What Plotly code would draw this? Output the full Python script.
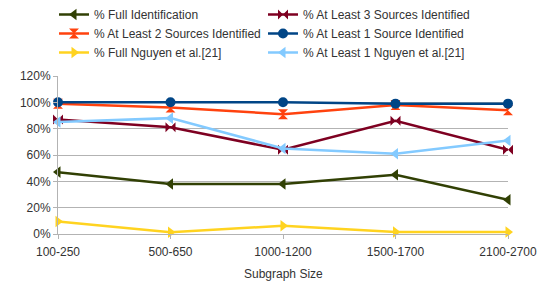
import plotly.graph_objects as go

categories = ["100-250", "500-650", "1000-1200", "1500-1700", "2100-2700"]
full_ident = [47, 38, 38, 45, 26]
least3 = [87, 81, 64, 86, 64]
least2 = [99, 96, 91, 98, 94]
least1 = [100, 100, 100, 99, 99]
full_nguyen = [9.5, 1.3, 6.3, 1.5, 1.5]
least1_nguyen = [85, 88, 65, 61, 71]
x_title = "Subgraph Size"

series = [
    ("% Full Identification", full_ident, "#314004", "triangle-left"),
    ("% At Least 3 Sources Identified", least3, "#7e0021", "bowtie"),
    ("% At Least 2 Sources Identified", least2, "#ff420e", "hourglass"),
    ("% At Least 1 Source Identified", least1, "#004586", "circle"),
    ("% Full Nguyen et al.[21]", full_nguyen, "#ffd320", "triangle-right"),
    ("% At Least 1 Nguyen et al.[21]", least1_nguyen, "#83caff", "triangle-left"),
]

fig = go.Figure()
for name, vals, color, sym in series:
    fig.add_trace(go.Scatter(
        x=categories, y=vals, name=name, mode="lines+markers",
        line=dict(color=color, width=2.5),
        marker=dict(symbol=sym, size=10, color=color),
        cliponaxis=False,
    ))

fig.add_annotation(
    text=x_title, xref="paper", yref="paper", x=0.5, y=-40 / 158,
    xanchor="center", yanchor="middle", showarrow=False,
    font=dict(size=12, color="#333333"),
)

fig.update_layout(
    width=545, height=289,
    margin=dict(l=58, r=37, t=76, b=55, autoexpand=False),
    paper_bgcolor="white", plot_bgcolor="white",
    font=dict(family="Liberation Sans, Arial, sans-serif", size=12, color="#333333"),
    showlegend=True,
    legend=dict(
        orientation="h", xref="container", yref="container",
        x=54 / 545, y=1.0, xanchor="left", yanchor="top",
        entrywidth=164, entrywidthmode="pixels",
        font=dict(size=12, color="#333333"),
        bgcolor="rgba(0,0,0,0)", tracegroupgap=0,
    ),
    xaxis=dict(
        type="category", range=[0, 4], showgrid=False, automargin=False,
        showline=True, linecolor="#b3b3b3", linewidth=1,
        ticks="outside", ticklen=4, tickcolor="#b3b3b3",
        ticklabelstandoff=3,
        tickfont=dict(size=12),
    ),
    yaxis=dict(
        range=[0, 120], dtick=20, ticksuffix="%", automargin=False,
        showgrid=True, gridcolor="#b3b3b3", gridwidth=1,
        showline=True, linecolor="#b3b3b3", mirror=False,
        ticks="outside", ticklen=4, tickcolor="#b3b3b3",
        zeroline=False, tickfont=dict(size=12),
    ),
)

fig.write_html(
    "out.html",
    config={"displayModeBar": False},
    post_script="document.body.style.margin='0';document.body.style.overflow='hidden';",
)
